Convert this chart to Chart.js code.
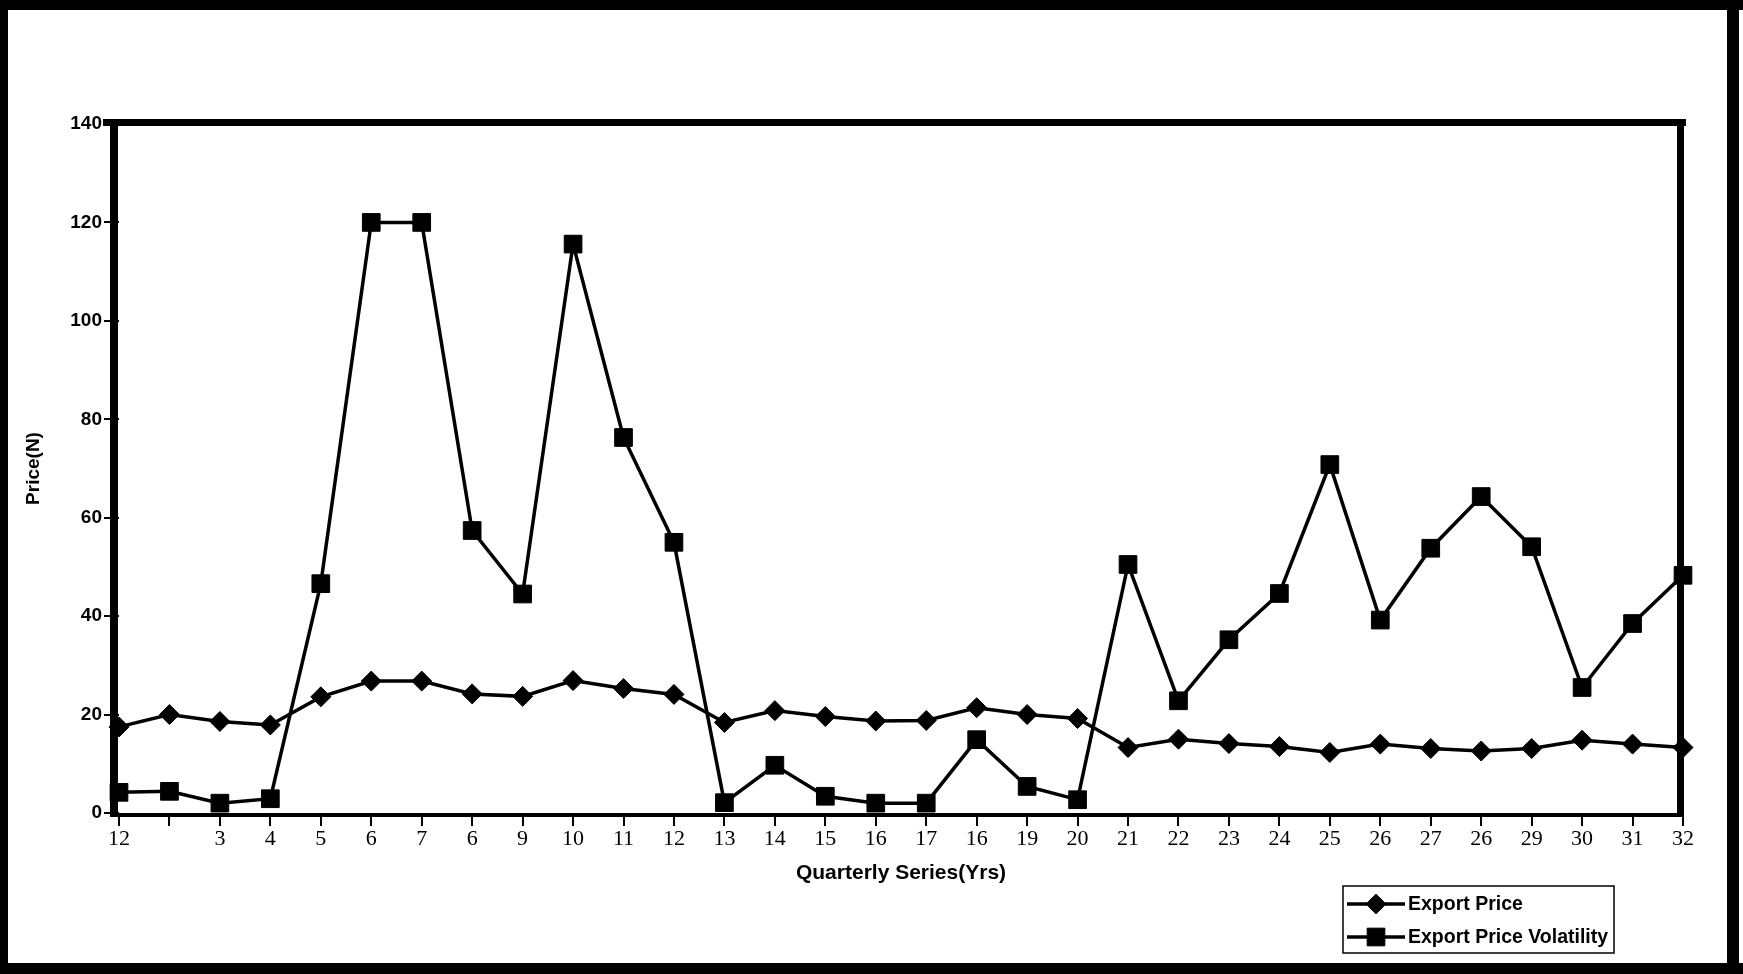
<!DOCTYPE html>
<html>
<head>
<meta charset="utf-8">
<title>Export Price and Export Price Volatility</title>
<script src="https://cdn.jsdelivr.net/npm/chart.js@4.4.1/dist/chart.umd.min.js"></script>
<style>
  html, body { margin: 0; padding: 0; background: #fff; }
  #wrap { width: 1743px; height: 974px; position: relative; }
  canvas { display: block; }
</style>
</head>
<body>
<div id="wrap"><canvas id="chart" width="1743" height="974"></canvas></div>
<script>
// Quarter index of each observation
const categories = [1, 2, 3, 4, 5, 6, 7, 8, 9, 10, 11, 12, 13, 14, 15, 16,
                    17, 18, 19, 20, 21, 22, 23, 24, 25, 26, 27, 28, 29, 30, 31, 32];

// Labels printed under the x-axis ticks
const tickLabels = ['12', '', '3', '4', '5', '6', '7', '6', '9', '10', '11', '12', '13', '14', '15', '16',
                    '17', '16', '19', '20', '21', '22', '23', '24', '25', '26', '27', '26', '29', '30', '31', '32'];

// Export price per quarter
const exportPrice = [17.5, 20.0, 18.6, 17.9, 23.6, 26.8, 26.8, 24.2, 23.7, 26.9, 25.3, 24.1, 18.4, 20.8, 19.6, 18.7,
                     18.8, 21.4, 20.0, 19.2, 13.3, 15.0, 14.1, 13.5, 12.3, 14.0, 13.1, 12.6, 13.1, 14.8, 14.0, 13.3];

// Export price volatility per quarter
const exportPriceVolatility = [4.2, 4.4, 2.0, 2.9, 46.6, 120.0, 120.0, 57.4, 44.5, 115.6, 76.3, 55.0, 2.1, 9.7, 3.4, 2.0,
                               2.0, 14.9, 5.4, 2.7, 50.5, 22.8, 35.2, 44.6, 70.8, 39.2, 53.8, 64.3, 54.1, 25.5, 38.5, 48.3];

// Y axis range
const yMin = 0;
const yMax = 140;
const yStep = 20;

const SANS = "'Liberation Sans', Arial, sans-serif";
const SERIF = "'Liberation Serif', 'Times New Roman', serif";

// Heavy page frame and the boxed plot area
const framePlugin = {
  id: 'frame',
  beforeDatasetsDraw(chart) {
    const ctx = chart.ctx;
    const a = chart.chartArea;
    ctx.save();
    ctx.fillStyle = '#000';
    // page frame
    ctx.fillRect(0, 0, 1743, 10);
    ctx.fillRect(0, 0, 8, 974);
    ctx.fillRect(1727, 0, 12, 974);
    ctx.fillRect(0, 963, 1743, 11);
    // plot box
    ctx.fillRect(a.left - 16, a.top - 5, a.right - a.left + 19, 7);   // top
    ctx.fillRect(a.left - 9, a.top - 5, 8, a.bottom - a.top + 6);      // left
    ctx.fillRect(a.right - 6, a.top - 5, 7, a.bottom - a.top + 6);     // right
    ctx.fillRect(a.left - 9, a.bottom, a.right - a.left + 10, 4);      // x axis
    ctx.restore();
  }
};

// Boxed legend below the plot, drawn from the dataset styles
const boxLegendPlugin = {
  id: 'boxLegend',
  afterDraw(chart) {
    const ctx = chart.ctx;
    const x0 = 1343, y0 = 886, w = 271, h = 67;
    ctx.save();
    ctx.fillStyle = '#fff';
    ctx.fillRect(x0, y0, w, h);
    ctx.strokeStyle = '#000';
    ctx.lineWidth = 1.5;
    ctx.strokeRect(x0, y0, w, h);
    const rows = [904, 937];
    chart.data.datasets.forEach((ds, i) => {
      const y = rows[i];
      ctx.strokeStyle = ds.borderColor;
      ctx.lineWidth = ds.borderWidth;
      ctx.beginPath();
      ctx.moveTo(x0 + 4, y);
      ctx.lineTo(x0 + 62, y);
      ctx.stroke();
      ctx.fillStyle = ds.pointBackgroundColor;
      ctx.strokeStyle = ds.pointBorderColor;
      ctx.lineWidth = 1;
      Chart.helpers.drawPoint(ctx, {
        pointStyle: ds.pointStyle,
        radius: ds.pointRadius,
        rotation: 0,
        borderWidth: 1
      }, x0 + 33, y);
      ctx.fillStyle = '#000';
      ctx.font = 'bold 19.5px ' + SANS;
      ctx.textBaseline = 'middle';
      ctx.textAlign = 'left';
      ctx.fillText(ds.label, x0 + 65, y + 1);
    });
    ctx.restore();
  }
};

const ctx = document.getElementById('chart').getContext('2d');
new Chart(ctx, {
  type: 'line',
  data: {
    labels: categories,
    datasets: [
      {
        label: 'Export Price',
        data: exportPrice,
        borderColor: '#000',
        backgroundColor: '#000',
        borderWidth: 3.5,
        tension: 0,
        pointStyle: 'rectRot',
        pointRadius: 10,
        pointBackgroundColor: '#000',
        pointBorderColor: '#000',
        pointBorderWidth: 1,
        clip: false
      },
      {
        label: 'Export Price Volatility',
        data: exportPriceVolatility,
        borderColor: '#000',
        backgroundColor: '#000',
        borderWidth: 3.5,
        tension: 0,
        pointStyle: 'rect',
        pointRadius: 12.5,
        pointBackgroundColor: '#000',
        pointBorderColor: '#000',
        pointBorderWidth: 1,
        clip: false
      }
    ]
  },
  options: {
    responsive: false,
    animation: false,
    devicePixelRatio: 1,
    layout: { padding: { left: 0, top: 124, right: 60, bottom: 0 } },
    plugins: {
      legend: { display: false },
      tooltip: { enabled: false }
    },
    scales: {
      x: {
        type: 'category',
        offset: false,
        border: { display: false },
        grid: {
          drawOnChartArea: false,
          drawTicks: true,
          color: '#000',
          lineWidth: 2,
          tickLength: 13,
          tickWidth: 2
        },
        ticks: {
          autoSkip: false,
          maxRotation: 0,
          minRotation: 0,
          padding: 0,
          color: '#000',
          font: { family: SERIF, size: 22 },
          callback: (value, index) => tickLabels[index]
        },
        title: {
          display: true,
          text: 'Quarterly Series(Yrs)',
          color: '#000',
          font: { family: SANS, size: 21, weight: 'bold' },
          padding: { top: 0, bottom: 88 }
        },
        afterFit(scale) { scale.height = 161; }
      },
      y: {
        min: yMin,
        max: yMax,
        border: { display: false },
        grid: {
          drawOnChartArea: false,
          drawTicks: true,
          color: '#000',
          lineWidth: 2,
          tickLength: 15,
          tickWidth: 2
        },
        ticks: {
          stepSize: yStep,
          padding: 2,
          color: '#000',
          font: { family: SANS, size: 19, weight: 'bold' }
        },
        title: {
          display: true,
          text: 'Price(N)',
          color: '#000',
          font: { family: SANS, size: 19, weight: 'bold' },
          padding: { top: 22, bottom: 0 }
        },
        afterFit(scale) { scale.width = 119; }
      }
    }
  },
  plugins: [framePlugin, boxLegendPlugin]
});
</script>
</body>
</html>
